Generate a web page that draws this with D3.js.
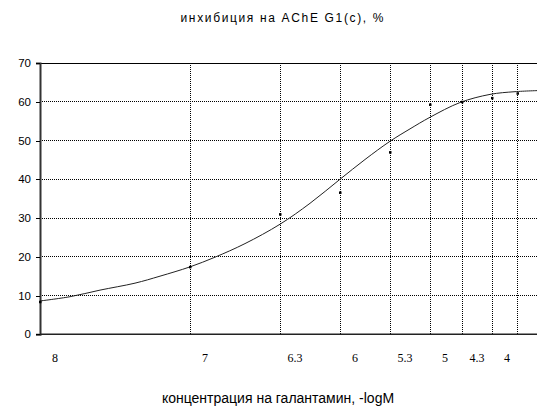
<!DOCTYPE html>
<html><head><meta charset="utf-8">
<script src="https://cdn.jsdelivr.net/npm/d3@7"></script>
<style>body{margin:0;background:#fff}svg{display:block}</style>
</head><body>
<script>
// Data (x in arbitrary plot units 0..100 along the unlabeled horizontal axis)
const pointX = [0, 30, 48, 60, 70, 78, 84.4, 90.4, 95.5];
const pointY = [8.4, 17.4, 31.0, 36.6, 47.0, 59.3, 60.0, 61.0, 62.2];
const curveX = [0, 6, 12, 19, 24, 30, 35, 41, 48, 54, 60, 65, 70, 74, 78, 84, 90, 95, 100];
const curveY = [8.6, 9.7, 11.4, 13.2, 15.0, 17.4, 19.9, 23.4, 28.4, 33.8, 40.0, 45.1, 49.8, 53.0, 56.0, 59.8, 61.9, 62.6, 62.9];
const gridX = [30, 48, 60, 70, 78, 84.4, 90.4, 95.5];
const tickLabelX = [0, 30, 48, 60, 70, 78, 84.4, 90.4];
const tickLabels = ["8", "7", "6.3", "6", "5.3", "5", "4.3", "4"];
const yTicks = [0, 10, 20, 30, 40, 50, 60, 70];
const title = "инхибиция на AChE G1(c), %";
const xTitle = "концентрация на галантамин, -logM";

const W = 537, H = 408;
const svg = d3.select("body").append("svg").attr("width", W).attr("height", H);
const x = d3.scaleLinear().domain([0, 100]).range([40, 540]);
const y = d3.scaleLinear().domain([0, 70]).range([334.3, 63]);

// horizontal gridlines
svg.append("g").selectAll("line").data(yTicks.filter(d => d > 0 && d < 70)).join("line")
  .attr("x1", x(0)).attr("x2", x(100)).attr("y1", d => y(d)).attr("y2", d => y(d))
  .attr("stroke", "#000").attr("stroke-width", 1).attr("stroke-dasharray", "1,1")
  .attr("shape-rendering", "crispEdges");
// vertical gridlines
svg.append("g").selectAll("line").data(gridX).join("line")
  .attr("x1", d => x(d)).attr("x2", d => x(d)).attr("y1", y(70)).attr("y2", y(0))
  .attr("stroke", "#000").attr("stroke-width", 1).attr("stroke-dasharray", "1,1")
  .attr("shape-rendering", "crispEdges");
// top border (70)
svg.append("line").attr("x1", x(0)).attr("x2", x(100)).attr("y1", y(70)).attr("y2", y(70))
  .attr("stroke", "#000").attr("stroke-width", 1).attr("shape-rendering", "crispEdges");

// y axis
const yAxis = d3.axisLeft(y).tickValues(yTicks).tickSize(4).tickPadding(5);
const gy = svg.append("g").attr("transform", `translate(${x(0)},0)`).call(yAxis);
gy.select(".domain").attr("stroke", "#333").attr("stroke-width", 2);
gy.selectAll(".tick line").attr("stroke", "#000").attr("shape-rendering", "crispEdges");
gy.selectAll("text").attr("font-family", "Liberation Sans, Arial, sans-serif").attr("font-size", 11.5).attr("fill", "#000");

// x axis line
svg.append("line").attr("x1", x(0)).attr("x2", x(100)).attr("y1", y(0)).attr("y2", y(0))
  .attr("stroke", "#222").attr("stroke-width", 1.5);

// x tick labels
svg.append("g").selectAll("text").data(tickLabels).join("text")
  .attr("x", (d, i) => x(tickLabelX[i]) + 15).attr("y", 362)
  .attr("text-anchor", "middle").attr("font-family", "Liberation Serif, Times New Roman, serif")
  .attr("font-size", 12).attr("fill", "#000").text(d => d);

// curve
const curve = curveX.map((d, i) => [d, curveY[i]]);
svg.append("path").datum(curve)
  .attr("d", d3.line().x(d => x(d[0])).y(d => y(d[1])).curve(d3.curveCatmullRom.alpha(0.5)))
  .attr("fill", "none").attr("stroke", "#222").attr("stroke-width", 1);

// points
svg.append("g").selectAll("rect").data(pointX).join("rect")
  .attr("x", (d) => x(d) - 1).attr("y", (d, i) => y(pointY[i]) - 1)
  .attr("width", 2.5).attr("height", 2.5).attr("fill", "#000");

// titles
svg.append("text").attr("x", 282).attr("y", 22).attr("text-anchor", "middle")
  .attr("font-family", "Liberation Sans, Arial, sans-serif").attr("font-size", 12)
  .attr("textLength", 203).attr("lengthAdjust", "spacing").text(title);
svg.append("text").attr("x", 278).attr("y", 403).attr("text-anchor", "middle")
  .attr("font-family", "Liberation Sans, Arial, sans-serif").attr("font-size", 14).text(xTitle);
</script>
</body></html>
